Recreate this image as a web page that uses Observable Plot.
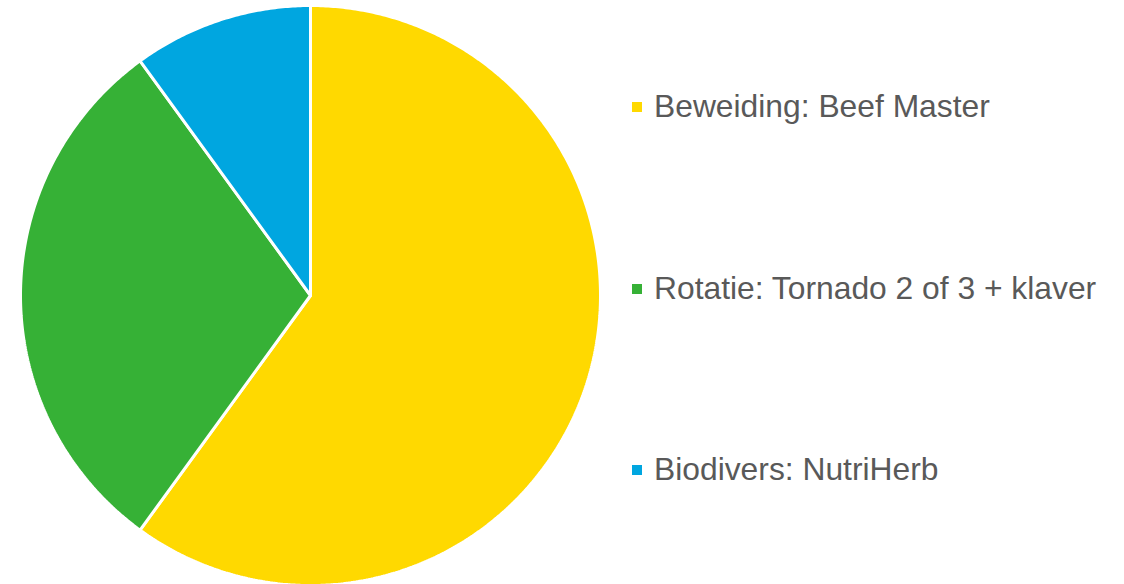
<!DOCTYPE html>
<html>
<head>
<meta charset="utf-8">
<script src="https://cdn.jsdelivr.net/npm/d3@7"></script>
<script src="https://cdn.jsdelivr.net/npm/@observablehq/plot@0.6"></script>
<style>
  html, body { margin: 0; padding: 0; background: #fff; }
  #wrap { position: relative; width: 1124px; height: 584px; overflow: hidden; }
  #chart { position: absolute; left: 0; top: 0; }
  .legend-item { position: absolute; left: 632px; display: flex; align-items: center;
    font-family: "Liberation Sans", Arial, sans-serif; font-size: 31.8px; line-height: 36px; color: #595959; white-space: nowrap; }
  .swatch { width: 10px; height: 10px; margin-right: 12px; margin-top: 1px; }
</style>
</head>
<body>
<div id="wrap">
  <div id="chart"></div>
</div>
<script>
const categories = ["Beweiding: Beef Master", "Rotatie: Tornado 2 of 3 + klaver", "Biodivers: NutriHerb"];
const values = [60, 30, 10];
const colors = ["#FFD900", "#36B136", "#00A6E0"];

const total = d3.sum(values);
const rows = [];
let acc = 0;
categories.forEach((cat, i) => {
  const a0 = acc / total * 2 * Math.PI;
  acc += values[i];
  const a1 = acc / total * 2 * Math.PI;
  const n = Math.max(4, Math.ceil((a1 - a0) / (Math.PI / 360)));
  rows.push({cat, x: 0, y: 0, order: 0});
  for (let k = 0; k <= n; k++) {
    const a = a0 + (a1 - a0) * k / n;
    rows.push({cat, x: Math.sin(a), y: Math.cos(a), order: k + 1});
  }
  rows.push({cat, x: 0, y: 0, order: n + 2});
});

const plot = Plot.plot({
  width: 620,
  height: 584,
  margin: 0,
  x: {domain: [-1, 1], range: [20, 600], axis: null},
  y: {domain: [-1, 1], range: [585, 5], axis: null},
  color: {domain: categories, range: colors},
  marks: [
    Plot.line(rows, {x: "x", y: "y", z: "cat", fill: "cat", stroke: "white", strokeWidth: 3, strokeLinejoin: "miter", curve: "linear"})
  ]
});
document.getElementById("chart").appendChild(plot);

const tops = [88, 270, 451];
const wrap = document.getElementById("wrap");
categories.forEach((cat, i) => {
  const item = document.createElement("div");
  item.className = "legend-item";
  item.style.top = tops[i] + "px";
  const sw = document.createElement("span");
  sw.className = "swatch";
  sw.style.background = colors[i];
  const t = document.createElement("span");
  t.textContent = cat;
  item.appendChild(sw);
  item.appendChild(t);
  wrap.appendChild(item);
});
</script>
</body>
</html>
